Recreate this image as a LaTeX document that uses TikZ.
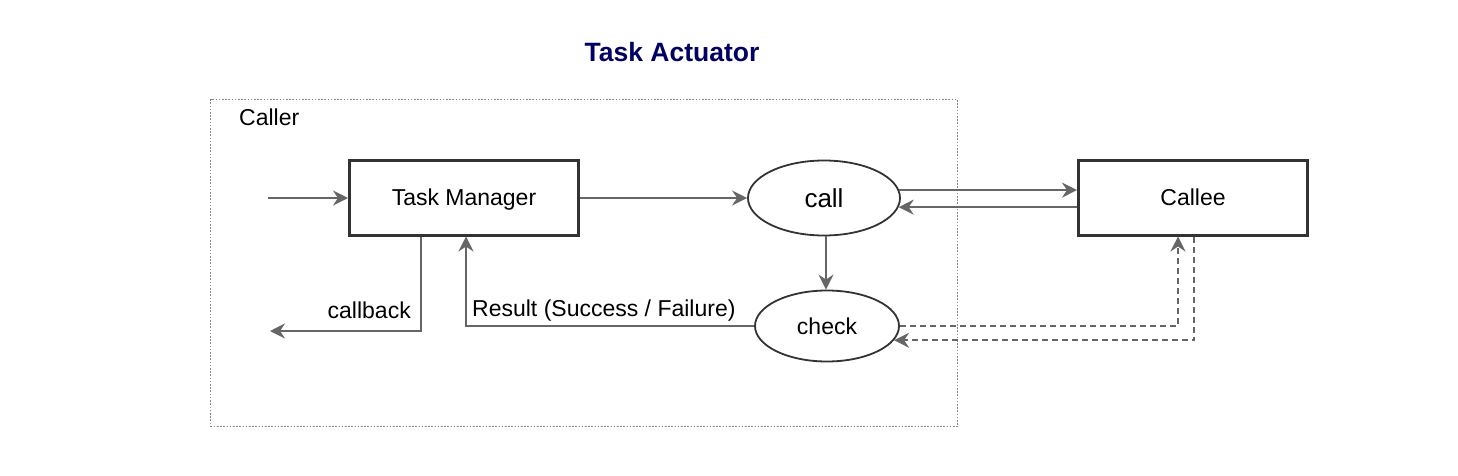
\documentclass[tikz,border=0pt]{standalone}
\usepackage{fontspec}
\setmainfont{Liberation Sans}
\usetikzlibrary{shapes.geometric,arrows.meta}
\definecolor{linegray}{HTML}{666666}
\definecolor{boxdark}{HTML}{333333}
\definecolor{framegray}{HTML}{888888}
\definecolor{titleblue}{HTML}{000066}
\begin{document}
\begin{tikzpicture}[x=1pt,y=-1pt,
  every node/.style={font=\fontsize{23}{27}\selectfont, inner sep=0pt, text=black},
  box/.style={draw=boxdark, line width=3pt, minimum width=229pt, minimum height=75pt, fill=white, text depth=0pt},
  oval/.style={draw=boxdark, ellipse, line width=1.8pt, fill=white},
  frame/.style={draw=framegray, line width=1.8pt, dash pattern=on 1.6pt off 1.6pt, minimum width=747pt, minimum height=327pt},
  conn/.style={draw=linegray, line width=1.9pt, -{Stealth[length=15pt,width=15pt,inset=5pt]}},
  dconn/.style={conn, dash pattern=on 6pt off 4pt}]
\useasboundingbox (0,0) rectangle (1458,476);
\node[frame] (caller) at (584,263) {};
\node[anchor=base west] (callerlbl) at (239,125) {Caller};
\node[text=titleblue, font=\bfseries\fontsize{26.5}{30}\selectfont] (title) at (672,52) {Task Actuator};
\node[box] (tm) at (464,197.5) {Task Manager};
\node[box] (callee) at (1193,197.5) {Callee};
\node[oval, minimum width=152pt, minimum height=75pt, font=\fontsize{26}{30}\selectfont] (call) at (824,198) {call};
\node[oval, minimum width=144pt, minimum height=71pt] (check) at (827,326) {check};
\coordinate (in) at (268,198);
\coordinate (cbend) at (270,331);
\draw[conn] (in) -- (in -| tm.west);
\draw[conn] (call.west -| tm.east) -- (call.west);
\draw[conn] (call.6) -- (call.6 -| callee.west);
\draw[conn] (callee.west |- call.-7.7) -- (call.-7.7);
\draw[conn] ([xshift=2pt]call.south) -- ([xshift=2pt]call.south |- check.north);
\draw[conn] ([xshift=-43pt]tm.south) |- (cbend);
\node[anchor=base east] (cblbl) at (411,318) {callback};
\draw[conn] (check.west) -| ([xshift=2pt]tm.south);
\node[anchor=base west] (reslbl) at (472,316) {Result (Success / Failure)};
\draw[dconn] (check.east) -| ([xshift=-15pt]callee.south);
\draw[dconn] ([xshift=1pt]callee.south) |- (check.-12.7);
\end{tikzpicture}
\end{document}
